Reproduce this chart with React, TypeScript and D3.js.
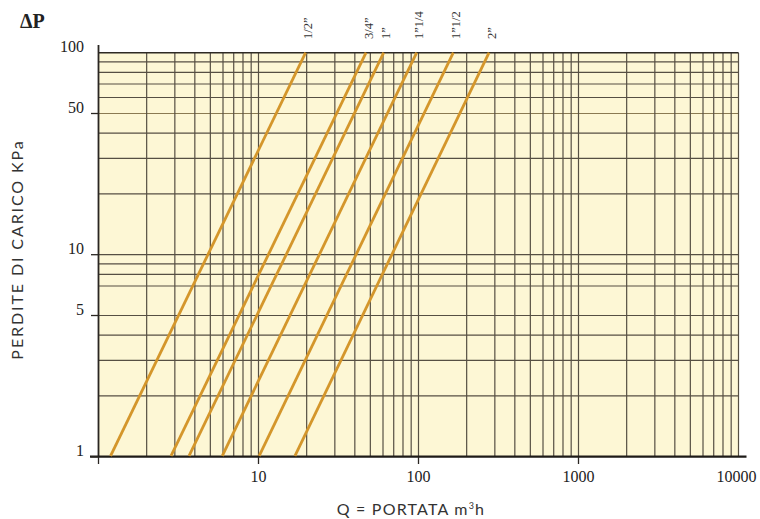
import React from "react";
import * as d3 from "d3";

// ---- data ----
const pipeSizes = ["1/2”", "3/4”", "1”", "1”1/4", "1”1/2", "2”"];
const pressureLow = 1; // kPa
const pressureHigh = 100; // kPa
const flowAtLow = [1.19, 2.84, 3.68, 5.94, 10.1, 16.9]; // Q at ΔP = 1
const flowAtHigh = [19.7, 47.0, 60.6, 97.4, 165, 276]; // Q at ΔP = 100

const xGridValues = [
  2, 3, 4, 5, 6, 7, 8, 9, 10,
  20, 30, 40, 50, 60, 70, 80, 90, 100,
  200, 300, 400, 500, 600, 700, 800, 900, 1000,
  2000, 3000, 4000, 5000, 6000, 7000, 8000, 9000, 10000,
];
const yGridValues = [2, 3, 4, 5, 7, 8, 9, 10, 20, 30, 40, 50, 60, 70, 80, 90];
const xTickValues = [1, 10, 100, 1000];
const xTickLabels = [10, 100, 1000, 10000];
const yTickValues = [1, 5, 10, 50];
const yTickLabels = [1, 5, 10, 50, 100];

const W = 760;
const H = 519;

export default function App() {
  const x = d3.scaleLog().domain([1, 10000]).range([98.5, 738.5]);
  const y = d3.scaleLog().domain([1, 100]).range([456.7, 52.7]);
  const line = d3
    .line<[number, number]>()
    .x((d) => x(d[0]))
    .y((d) => y(d[1]));

  const gridDark = "#564f43";
  const serif = "'Liberation Serif', 'DejaVu Serif', serif";
  const sans = "Lato, 'Open Sans', sans-serif";

  return (
    <svg
      width={W}
      height={H}
      viewBox={`0 0 ${W} ${H}`}
      style={{ position: "absolute", left: 0, top: 0, background: "#fff" }}
    >
      <rect
        x={x(1)}
        y={y(100)}
        width={x(10000) - x(1)}
        height={y(1) - y(100)}
        fill="#fdf7d5"
      />
      {/* horizontal grid */}
      {yGridValues.map((v) => (
        <line
          key={"h" + v}
          x1={x(1)}
          x2={x(10000)}
          y1={y(v)}
          y2={y(v)}
          stroke={v === 50 ? "#8a7a52" : gridDark}
          strokeWidth={1.2}
        />
      ))}
      {/* vertical grid */}
      {xGridValues.map((v) => (
        <line
          key={"v" + v}
          x1={x(v)}
          x2={x(v)}
          y1={y(100)}
          y2={y(1)}
          stroke={gridDark}
          strokeWidth={1.2}
        />
      ))}
      {/* top border */}
      <line x1={x(1)} x2={x(10000)} y1={y(100)} y2={y(100)} stroke="#2e2a24" strokeWidth={1.6} />
      {/* axes */}
      <line x1={x(1)} x2={x(1)} y1={45} y2={y(1)} stroke="#2a2622" strokeWidth={1.8} />
      <line x1={90} x2={746.5} y1={y(1)} y2={y(1)} stroke="#1e1b18" strokeWidth={2.2} />
      {yTickValues.map((v) => (
        <line key={"yt" + v} x1={91} x2={x(1)} y1={y(v)} y2={y(v)} stroke="#2a2622" strokeWidth={1.3} />
      ))}
      {xTickValues.map((v) => (
        <line key={"xt" + v} x1={x(v)} x2={x(v)} y1={y(1)} y2={464} stroke="#2a2622" strokeWidth={1.3} />
      ))}
      {/* curves */}
      {pipeSizes.map((s, i) => (
        <path
          key={"c" + s}
          d={line([
            [flowAtLow[i], pressureLow * 1.01],
            [flowAtHigh[i], pressureHigh],
          ]) || ""}
          fill="none"
          stroke="#d4962b"
          strokeWidth={2.8}
        />
      ))}
      {/* curve labels */}
      {pipeSizes.map((s, i) => (
        <text
          key={"l" + s}
          transform={`translate(${x(flowAtHigh[i]) + 6.5},39) rotate(-90)`}
          fontFamily={serif}
          fontSize={12.5}
          fill="#333"
        >
          {s}
        </text>
      ))}
      {/* y tick labels */}
      {yTickLabels.map((v) => (
        <text
          key={"yl" + v}
          x={84}
          y={y(v) - 0.5}
          textAnchor="end"
          fontFamily={serif}
          fontSize={16}
          fill="#222"
        >
          {v}
        </text>
      ))}
      {/* x tick labels */}
      {xTickLabels.map((v) => (
        <text
          key={"xl" + v}
          x={v === 10000 ? x(v) - 2 : x(v)}
          y={482}
          textAnchor="middle"
          fontFamily={serif}
          fontSize={16}
          fill="#222"
        >
          {v}
        </text>
      ))}
      {/* ΔP */}
      <text x={20} y={28} fontFamily={serif} fontSize={20} fontWeight="bold" fill="#222">
        ΔP
      </text>
      {/* axis titles */}
      <text
        x={411}
        y={515}
        textAnchor="middle"
        fontFamily={sans}
        fontSize={16}
        letterSpacing={1.2}
        fill="#333"
      >
        Q = PORTATA m
        <tspan fontSize={9} dy={-6}>3</tspan>
        <tspan dy={6}>h</tspan>
      </text>
      <text
        transform="translate(22.7,249.5) rotate(-90)"
        textAnchor="middle"
        fontFamily={sans}
        fontSize={16}
        letterSpacing={1.9}
        fill="#333"
      >
        PERDITE DI CARICO KPa
      </text>
    </svg>
  );
}
